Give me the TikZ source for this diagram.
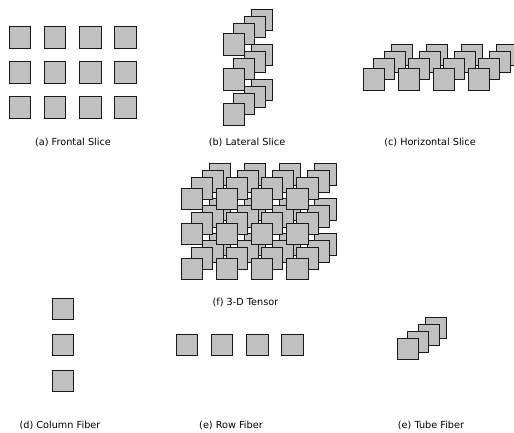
\documentclass[tikz,border=0pt]{standalone}
\usepackage{fontspec}
\setmainfont{DejaVu Sans}
\definecolor{sqfill}{RGB}{192,192,192}
\definecolor{sqline}{RGB}{25,25,25}
\begin{document}
\begin{tikzpicture}[x=1pt,y=-1pt,
  sq/.style={draw=sqline,fill=sqfill,line width=1pt,minimum size=21.5pt,inner sep=0pt,anchor=north west,outer sep=0pt},
  capt/.style={font=\fontsize{9.7}{11}\selectfont,inner sep=0pt}]
\useasboundingbox (0,0) rectangle (514,433);
% (a) Frontal slice
\foreach \i in {0,...,3}{\foreach \j in {0,1,2}{
  \node[sq] (a-\i-\j) at ({9+35.3*\i},{27+35*\j}) {};}}
\node[capt] (la) at (73,142.5) {(a) Frontal Slice};
% (b) Lateral slice
\foreach \k/\dx/\dy in {3/28/-24.5,2/21/-17.5,1/10/-10.5,0/0/0}{
  \foreach \j in {0,1,2}{
  \node[sq] (b-\k-\j) at ({223+\dx},{34+35*\j+\dy}) {};}}
\node[capt] (lb) at (247,142.5) {(b) Lateral Slice};
% (c) Horizontal slice
\foreach \k/\dx/\dy in {3/28/-24.5,2/21/-17.5,1/10/-10.5,0/0/0}{
  \foreach \i in {0,...,3}{
  \node[sq] (c-\k-\i) at ({363+35*\i+\dx},{69+\dy}) {};}}
\node[capt] (lc) at (430,142.5) {(c) Horizontal Slice};
% (f) 3-D tensor
\foreach \k/\dx/\dy in {3/28/-24.5,2/21/-17.5,1/10/-10.5,0/0/0}{
  \foreach \i in {0,...,3}{\foreach \j in {0,1,2}{
  \node[sq] (f-\k-\i-\j) at ({181+35.2*\i+\dx},{188+35*\j+\dy}) {};}}}
\node[capt] (lf) at (245.5,302) {(f) 3-D Tensor};
% (d) Column fiber
\foreach \j in {0,1,2}{
  \node[sq] (d-\j) at (52,{298+36*\j}) {};}
\node[capt] (ld) at (60,425) {(d) Column Fiber};
% (e) Row fiber
\foreach \i in {0,...,3}{
  \node[sq] (e-\i) at ({176+35.3*\i},334) {};}
\node[capt] (le) at (231,425) {(e) Row Fiber};
% (e) Tube fiber
\foreach \k/\dx/\dy in {3/28/-21,2/21/-14,1/10/-7,0/0/0}{
  \node[sq] (g-\k) at ({397+\dx},{338+\dy}) {};}
\node[capt] (lg) at (431,425) {(e) Tube Fiber};
\end{tikzpicture}
\end{document}
